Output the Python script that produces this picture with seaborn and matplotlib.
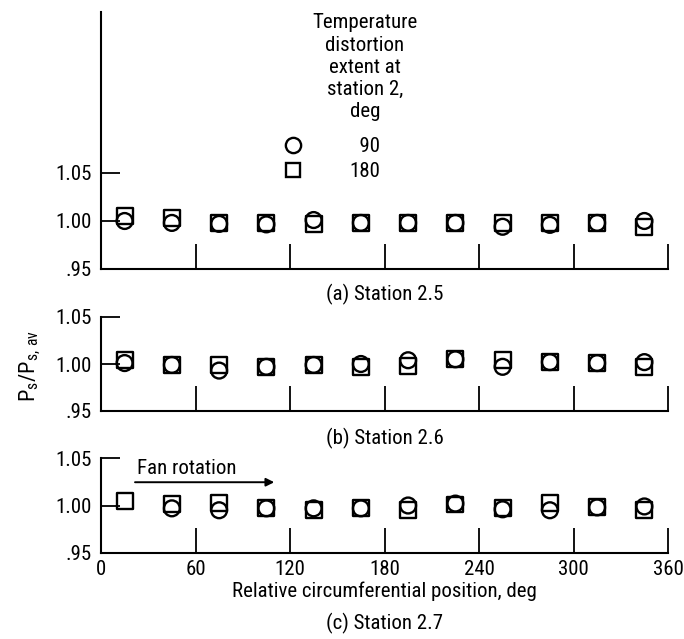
import numpy as np
import pandas as pd
import matplotlib
matplotlib.use("Agg")
import matplotlib.pyplot as plt
from matplotlib.lines import Line2D
from matplotlib import font_manager as fm
import seaborn as sns

# ---------------- data ----------------
positions = [15, 45, 75, 105, 135, 165, 195, 225, 255, 285, 315, 345]
extent_labels = ["90", "180"]

a_90 = [1.000, 0.998, 0.997, 0.9965, 1.001, 0.998, 0.998, 0.998, 0.994, 0.996, 0.998, 1.000]
a_180 = [1.005, 1.003, 0.998, 0.998, 0.997, 0.998, 0.998, 0.998, 0.998, 0.998, 0.998, 0.994]

b_90 = [1.001, 0.999, 0.993, 0.997, 0.999, 1.000, 1.004, 1.005, 0.997, 1.002, 1.001, 1.002]
b_180 = [1.004, 0.999, 0.999, 0.997, 0.999, 0.997, 0.998, 1.005, 1.004, 1.002, 1.001, 0.997]

c_90 = [np.nan, 0.997, 0.995, 0.997, 0.997, 0.997, 1.000, 1.002, 0.996, 0.995, 0.998, 0.999]
c_180 = [1.005, 1.002, 1.003, 0.997, 0.995, 0.997, 0.995, 1.001, 0.997, 1.003, 0.998, 0.995]

panel_captions = ["(a) Station 2.5", "(b) Station 2.6", "(c) Station 2.7"]
x_ticks = [0, 60, 120, 180, 240, 300, 360]
y_ticks = [0.95, 1.00, 1.05]
y_tick_labels = [".95", "1.00", "1.05"]
legend_title = "Temperature\ndistortion\nextent at\nstation 2,\ndeg"

# ---------------- style ----------------
sns.set_theme(style="white")
available = {f.name for f in fm.fontManager.ttflist}
cands = ["Liberation Sans Narrow", "DejaVu Sans Condensed", "Roboto Condensed",
         "Open Sans Condensed", "DejaVu Sans"]
FONT = [c for c in cands if c in available] + ["DejaVu Sans"]
plt.rcParams["font.family"] = FONT
plt.rcParams["font.stretch"] = "condensed"
plt.rcParams["axes.linewidth"] = 1.5
for k in ["text.color", "axes.labelcolor", "xtick.color", "ytick.color",
          "xtick.labelcolor", "ytick.labelcolor"]:
    plt.rcParams[k] = "black"

W, H = 684, 639
fig = plt.figure(figsize=(W / 100, H / 100), dpi=100)


def px_axes(left, top, right, bottom):
    return fig.add_axes([left / W, 1 - bottom / H, (right - left) / W, (bottom - top) / H])


X0, X1 = 101, 668
ax_a = px_axes(X0, 12, X1, 269)
ax_b = px_axes(X0, 317, X1, 411)
ax_c = px_axes(X0, 458, X1, 553)

panels = [
    (ax_a, a_90, a_180, 1.2177),
    (ax_b, b_90, b_180, 1.05),
    (ax_c, c_90, c_180, 1.05),
]

TS = 15  # text size

for i, (ax, v90, v180, ytop) in enumerate(panels):
    df = pd.DataFrame({
        "pos": positions * 2,
        "val": list(v90) + list(v180),
        "extent": [extent_labels[0]] * len(positions) + [extent_labels[1]] * len(positions),
    })
    for lab, mk in zip(extent_labels, ["o", "s"]):
        sub = df[df["extent"] == lab]
        sns.scatterplot(data=sub, x="pos", y="val", marker=mk, s=130,
                        facecolors="none", edgecolor="black", color="black",
                        linewidth=1.7, legend=False, ax=ax, zorder=3)
    ax.set_xlim(0, 360)
    ax.set_ylim(0.95, ytop)
    for s in ["top", "right"]:
        ax.spines[s].set_visible(False)
    for s in ["left", "bottom"]:
        ax.spines[s].set_color("black")
        ax.spines[s].set_linewidth(1.5)
    ax.set_xticks(x_ticks[1:])
    ax.set_yticks(y_ticks)
    ax.set_yticklabels(y_tick_labels)
    ax.tick_params(axis="x", direction="in", length=18, width=1.3, colors="black",
                   labelsize=TS, pad=5, bottom=True)
    ax.tick_params(axis="y", direction="in", length=14, width=1.3, colors="black",
                   labelsize=TS, pad=7, left=True)
    ax.set_xlabel("")
    ax.set_ylabel("")
    ax.grid(False)
    if i < 2:
        ax.tick_params(axis="x", labelbottom=False)

ax_c.set_xticks(x_ticks)
ax_c.set_xticklabels([str(v) for v in x_ticks])
ax_c.tick_params(axis="x", labelbottom=True)
ax_c.set_xlabel("Relative circumferential position, deg", fontsize=TS, labelpad=2,
                color="black")

# Fan rotation arrow
ax_c.annotate("", xy=(110, 1.0245), xytext=(21.6, 1.0245),
              arrowprops=dict(arrowstyle="-|>", lw=1.4, color="black", mutation_scale=12,
                              shrinkA=0, shrinkB=0))
ax_c.text(23, 1.039, "Fan rotation", fontsize=TS, ha="left", va="center")

# Legend (panel a)
ax_a.text(167.6, 1.160, legend_title, fontsize=TS, ha="center", va="center",
          linespacing=1.22)
handles = [
    Line2D([], [], marker="o", ls="none", mfc="none", mec="black", ms=11, mew=1.7),
    Line2D([], [], marker="s", ls="none", mfc="none", mec="black", ms=10.5, mew=1.7),
]
leg = ax_a.legend(handles, ["  90", "180"], loc="upper left",
                  bbox_to_anchor=(283 / W, 1 - 137 / H), bbox_transform=fig.transFigure,
                  frameon=False, fontsize=TS, handlelength=1.0, handletextpad=2.2,
                  labelspacing=0.28, borderpad=0, borderaxespad=0)

# Panel captions and y label
for cap, ypx in zip(panel_captions, [294, 438, 623]):
    fig.text((X0 + X1) / 2 / W, 1 - ypx / H, cap, fontsize=TS, ha="center", va="center")

fig.text(30 / W, 1 - 366 / H, r"P$_\mathregular{s}$/P$_\mathregular{s,\,av}$", fontsize=16,
         rotation=90, ha="center", va="center")

fig.savefig("out.png", dpi=100, facecolor="white")
